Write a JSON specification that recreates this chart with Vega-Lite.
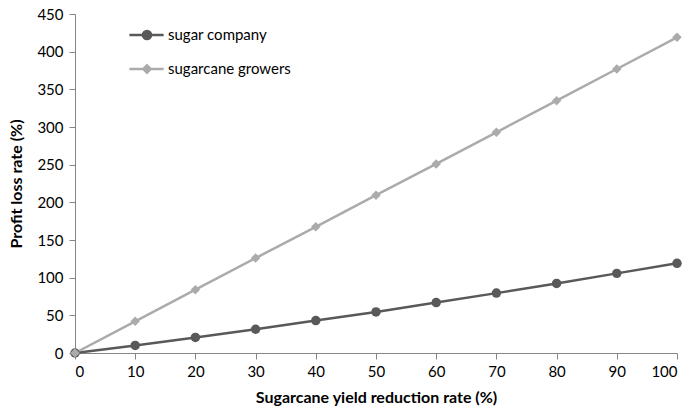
{
  "$schema": "https://vega.github.io/schema/vega-lite/v6.json",
  "width": 602,
  "height": 339,
  "autosize": "none",
  "padding": {"left": 75, "top": 14, "right": 15, "bottom": 58},
  "background": "white",
  "config": {
    "font": "Lato",
    "view": {"stroke": null},
    "axis": {
      "grid": false,
      "domainColor": "#868686",
      "tickColor": "#868686",
      "tickSize": 6,
      "labelFont": "Lato",
      "labelFontSize": 15,
      "labelColor": "#000000",
      "titleFont": "Lato",
      "titleFontSize": 16,
      "titleFontWeight": "bold",
      "titleColor": "#000000"
    }
  },
  "data": {
    "values": [
      {"x": 0, "y": 0, "series": "sugar company"},
      {"x": 10, "y": 10, "series": "sugar company"},
      {"x": 20, "y": 20.7, "series": "sugar company"},
      {"x": 30, "y": 31.5, "series": "sugar company"},
      {"x": 40, "y": 43, "series": "sugar company"},
      {"x": 50, "y": 54.5, "series": "sugar company"},
      {"x": 60, "y": 67, "series": "sugar company"},
      {"x": 70, "y": 79.5, "series": "sugar company"},
      {"x": 80, "y": 92.3, "series": "sugar company"},
      {"x": 90, "y": 105.7, "series": "sugar company"},
      {"x": 100, "y": 119, "series": "sugar company"},
      {"x": 0, "y": 0, "series": "sugarcane growers"},
      {"x": 10, "y": 42, "series": "sugarcane growers"},
      {"x": 20, "y": 84, "series": "sugarcane growers"},
      {"x": 30, "y": 126, "series": "sugarcane growers"},
      {"x": 40, "y": 167.5, "series": "sugarcane growers"},
      {"x": 50, "y": 209.5, "series": "sugarcane growers"},
      {"x": 60, "y": 251, "series": "sugarcane growers"},
      {"x": 70, "y": 293, "series": "sugarcane growers"},
      {"x": 80, "y": 335, "series": "sugarcane growers"},
      {"x": 90, "y": 377, "series": "sugarcane growers"},
      {"x": 100, "y": 419, "series": "sugarcane growers"}
    ]
  },
  "encoding": {
    "x": {
      "field": "x", "type": "quantitative",
      "scale": {"domain": [0, 100], "nice": false},
      "axis": {"values": [0,10,20,30,40,50,60,70,80,90,100], "title": "Sugarcane yield reduction rate (%)", "labelPadding": 5, "titlePadding": 10}
    },
    "y": {
      "field": "y", "type": "quantitative",
      "scale": {"domain": [0, 450], "nice": false},
      "axis": {"values": [0,50,100,150,200,250,300,350,400,450], "title": "Profit loss rate (%)", "labelPadding": 6, "titlePadding": 12}
    },
    "color": {
      "field": "series", "type": "nominal",
      "scale": {"domain": ["sugar company", "sugarcane growers"], "range": ["#595959", "#ABABAB"]},
      "legend": {
        "title": null,
        "orient": "none",
        "legendX": 52,
        "legendY": 1,
        "symbolSize": 1369,
        "symbolStrokeWidth": 2.5,
        "labelFont": "Lato",
        "labelFontSize": 15,
        "labelColor": "#000000",
        "labelOffset": 1,
        "rowPadding": 4,
        "encode": {
          "symbols": {
            "update": {
              "fill": {"scale": "color", "field": "value"},
              "shape": {"signal": "datum.value === 'sugar company' ? 'M-0.95,0H0.9M0.22,0A0.22,0.22,0,1,1,-0.22,0A0.22,0.22,0,1,1,0.22,0Z' : 'M-0.95,0H0.9M0,-0.2L0.2,0L0,0.2L-0.2,0Z'"}
            }
          }
        }
      }
    }
  },
  "layer": [
    {
      "mark": {"type": "line", "strokeWidth": 2.5}
    },
    {
      "transform": [{"filter": "datum.series === 'sugar company'"}],
      "mark": {"type": "point", "filled": true, "opacity": 1, "shape": "circle", "size": 90}
    },
    {
      "transform": [{"filter": "datum.series === 'sugarcane growers'"}],
      "mark": {"type": "point", "filled": true, "opacity": 1, "shape": "diamond", "size": 90}
    }
  ]
}
